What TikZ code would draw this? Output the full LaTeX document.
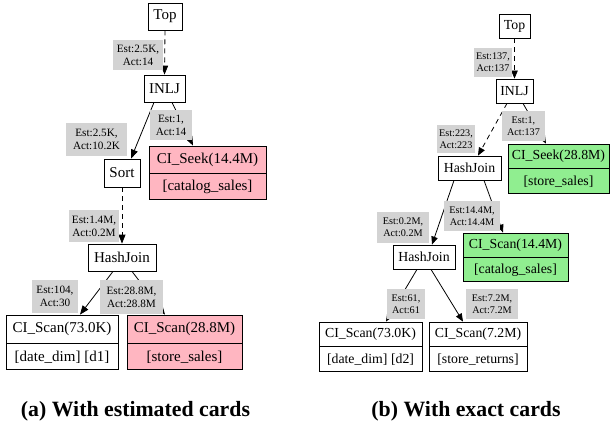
\documentclass[tikz,border=0pt]{standalone}
\usepackage{fontspec}
\setmainfont{Liberation Serif}
\usetikzlibrary{arrows.meta}
\definecolor{pinkc}{HTML}{FFB6C1}
\definecolor{greenc}{HTML}{90EE90}
\definecolor{labgray}{HTML}{D3D3D3}
\begin{document}
\begin{tikzpicture}[x=1pt,y=-1pt,
  opA/.style={draw=black, line width=0.8pt, fill=white, inner sep=0pt,
    font=\fontsize{15}{18}\selectfont},
  opB/.style={draw=black, line width=0.8pt, fill=white, inner sep=0pt,
    font=\fontsize{13.8}{16}\selectfont},
  labA/.style={fill=labgray, inner sep=0pt, align=center,
    font=\fontsize{11.2}{13}\selectfont},
  labB/.style={fill=labgray, inner sep=0pt, align=center,
    font=\fontsize{10.2}{12}\selectfont},
  edgeA/.style={draw, line width=0.8pt, -{Triangle[length=9pt,width=7pt]}},
  edgeB/.style={draw, line width=0.8pt, -{Triangle[length=8pt,width=6.5pt]}},
  dsh/.style={dash pattern=on 5pt off 4pt},
  capt/.style={font=\fontsize{21.8}{24}\selectfont\bfseries}
]
\useasboundingbox (0,0) rectangle (610,425);

% ---------- left plan ----------
\node[opA, minimum width=34pt, minimum height=27pt] (TopL) at (165,16.5) {Top};
\node[opA, minimum width=41pt, minimum height=27pt] (InljL) at (164.5,88.5) {INLJ};
\node[opA, minimum width=36pt, minimum height=28pt] (SortL) at (122,173) {Sort};
\node[opA, fill=pinkc, minimum width=117pt, minimum height=27pt] (SeekL) at (207.5,159.5) {CI\_Seek(14.4M)};
\node[opA, fill=pinkc, minimum width=117pt, minimum height=26pt, anchor=north] (SeekLb) at (SeekL.south) {[catalog\_sales]};
\node[opA, minimum width=68pt, minimum height=27pt] (HjL) at (122,257.5) {HashJoin};
\node[opA, minimum width=112pt, minimum height=28pt] (DateL) at (62,329) {CI\_Scan(73.0K)};
\node[opA, minimum width=112pt, minimum height=26pt, anchor=north] (DateLb) at (DateL.south) {[date\_dim] [d1]};
\node[opA, fill=pinkc, minimum width=115pt, minimum height=28pt] (SsL) at (184.5,329) {CI\_Scan(28.8M)};
\node[opA, fill=pinkc, minimum width=115pt, minimum height=26pt, anchor=north] (SsLb) at (SsL.south) {[store\_sales]};

\draw[edgeA, dsh] (TopL.south) -- (InljL.north);
\draw[edgeA] ([xshift=-10.5pt]InljL.south) -- ([xshift=9pt]SortL.north);
\draw[edgeA] ([xshift=7.5pt]InljL.south) -- ([xshift=-14.5pt]SeekL.north);
\draw[edgeA, dsh] (SortL.south) -- (HjL.north);
\draw[edgeA] ([xshift=-9pt]HjL.south) -- ([xshift=18pt]DateL.north);
\draw[edgeA] ([xshift=10pt]HjL.south) -- ([xshift=-19.5pt]SsL.north);

\node[labA, minimum width=50pt, minimum height=30pt] (l1) at (138,55) {Est:2.5K,\\Act:14};
\node[labA, minimum width=61pt, minimum height=33pt] (l2) at (96.5,139.5) {Est:2.5K,\\Act:10.2K};
\node[labA, minimum width=42pt, minimum height=30pt] (l3) at (171,125) {Est:1,\\Act:14};
\node[labA, minimum width=50pt, minimum height=32pt] (l4) at (94,226) {Est:1.4M,\\Act:0.2M};
\node[labA, minimum width=46pt, minimum height=33pt] (l5) at (55,296.5) {Est:104,\\Act:30};
\node[labA, minimum width=63pt, minimum height=34pt] (l6) at (131.5,297) {Est:28.8M,\\Act:28.8M};

\node[capt] (captA) at (135.5,411) {(a) With estimated cards};

% ---------- right plan ----------
\node[opB, minimum width=31pt, minimum height=24pt] (TopR) at (514.5,26) {Top};
\node[opB, minimum width=37pt, minimum height=24pt] (InljR) at (514.5,91) {INLJ};
\node[opB, minimum width=63pt, minimum height=24pt] (HjR1) at (469.5,168) {HashJoin};
\node[opB, fill=greenc, minimum width=101pt, minimum height=24pt] (SeekR) at (558.5,156) {CI\_Seek(28.8M)};
\node[opB, fill=greenc, minimum width=101pt, minimum height=25pt, anchor=north] (SeekRb) at (SeekR.south) {[store\_sales]};
\node[opB, fill=greenc, minimum width=105pt, minimum height=24pt] (CsR) at (515.5,245) {CI\_Scan(14.4M)};
\node[opB, fill=greenc, minimum width=105pt, minimum height=24pt, anchor=north] (CsRb) at (CsR.south) {[catalog\_sales]};
\node[opB, minimum width=62pt, minimum height=24pt] (HjR2) at (424,257) {HashJoin};
\node[opB, minimum width=103pt, minimum height=24pt] (DateR) at (370.5,334) {CI\_Scan(73.0K)};
\node[opB, minimum width=103pt, minimum height=25pt, anchor=north] (DateRb) at (DateR.south) {[date\_dim] [d2]};
\node[opB, minimum width=98pt, minimum height=24pt] (SrR) at (478,334) {CI\_Scan(7.2M)};
\node[opB, minimum width=98pt, minimum height=25pt, anchor=north] (SrRb) at (SrR.south) {[store\_returns]};

\draw[edgeB, dsh] (TopR.south) -- (InljR.north);
\draw[edgeB, dsh] ([xshift=-7.5pt]InljR.south) -- ([xshift=8.5pt]HjR1.north);
\draw[edgeB] ([xshift=8.5pt]InljR.south) -- ([xshift=-12.5pt]SeekR.north);
\draw[edgeB] ([xshift=-15.5pt]HjR1.south) -- ([xshift=8pt]HjR2.north);
\draw[edgeB] ([xshift=14.5pt]HjR1.south) -- ([xshift=-12.5pt]CsR.north);
\draw[edgeB] ([xshift=-7pt]HjR2.south) -- ([xshift=15.5pt]DateR.north);
\draw[edgeB] ([xshift=7pt]HjR2.south) -- ([xshift=-15pt]SrR.north);

\node[labB, minimum width=38pt, minimum height=29pt] (r1) at (493,62.5) {Est:137,\\Act:137};
\node[labB, minimum width=38pt, minimum height=28pt] (r2) at (456,139) {Est:223,\\Act:223};
\node[labB, minimum width=43pt, minimum height=30pt] (r3) at (523.5,126) {Est:1,\\Act:137};
\node[labB, minimum width=52pt, minimum height=31pt] (r4) at (403,227.5) {Est:0.2M,\\Act:0.2M};
\node[labB, minimum width=56pt, minimum height=30pt] (r5) at (472,216) {Est:14.4M,\\Act:14.4M};
\node[labB, minimum width=38pt, minimum height=30pt] (r6) at (406,304) {Est:61,\\Act:61};
\node[labB, minimum width=52pt, minimum height=30pt] (r7) at (492,304) {Est:7.2M,\\Act:7.2M};

\node[capt] (captB) at (466,411.5) {(b) With exact cards};
\end{tikzpicture}
\end{document}
